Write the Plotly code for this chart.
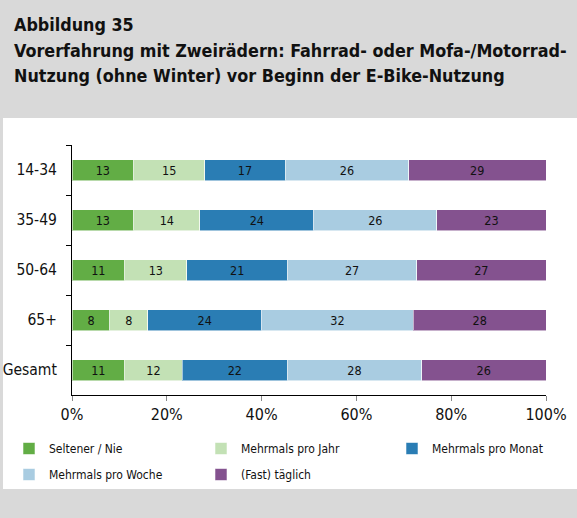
import plotly.graph_objects as go

# Age groups (top to bottom) and usage frequencies in percent
groups = ["14-34", "35-49", "50-64", "65+", "Gesamt"]
series_names = ["Seltener / Nie", "Mehrmals pro Jahr", "Mehrmals pro Monat",
                "Mehrmals pro Woche", "(Fast) täglich"]
seltener = [13, 13, 11, 8, 11]
pro_jahr = [15, 14, 13, 8, 12]
pro_monat = [17, 24, 21, 24, 22]
pro_woche = [26, 26, 27, 32, 28]
taeglich = [29, 23, 27, 28, 26]
x_ticks = [0, 20, 40, 60, 80, 100]
x_tick_labels = ["0%", "20%", "40%", "60%", "80%", "100%"]

series_values = [seltener, pro_jahr, pro_monat, pro_woche, taeglich]
colors = ["#62ad45", "#c3e1b5", "#2a7db4", "#a9cce1", "#84528f"]
# legend column for each series (three columns, two rows)
legend_ids = ["legend", "legend2", "legend3", "legend", "legend2"]

FONT = "DejaVu Sans Condensed, Liberation Sans Narrow, Arial Narrow, sans-serif"
W, H = 577, 518
L, R, T, B = 72, 31, 145, 123
PW, PH = W - L - R, H - T - B


def px_x(px):
    return (px - L) / PW


def px_y(py):
    return (H - B - py) / PH


fig = go.Figure()
for i, (name, vals, col) in enumerate(zip(series_names, series_values, colors)):
    fig.add_trace(go.Bar(
        y=groups, x=vals, name=name, orientation="h",
        marker=dict(color=col, line=dict(color="rgba(255,255,255,0.55)", width=1)),
        width=0.42,
        text=vals, texttemplate="%{text}", textposition="inside",
        insidetextanchor="middle", textangle=0, constraintext="none",
        textfont=dict(family=FONT, size=12.5, color="#111111"),
        legend=legend_ids[i], legendgroup=name,
        hoverinfo="skip",
    ))

# white chart panel on grey page
fig.add_shape(type="rect", xref="paper", yref="paper",
              x0=px_x(3), x1=px_x(W + 2), y0=px_y(489), y1=px_y(118),
              fillcolor="white", line=dict(width=0), layer="below")

title_lines = ["Abbildung 35",
               "Vorerfahrung mit Zweirädern: Fahrrad- oder Mofa-/Motorrad-",
               "Nutzung (ohne Winter) vor Beginn der E-Bike-Nutzung"]
for line, cy in zip(title_lines, [24, 50, 75]):
    fig.add_annotation(text="<b>%s</b>" % line, xref="paper", yref="paper",
                       x=px_x(12), y=px_y(cy), xanchor="left", yanchor="middle",
                       showarrow=False, font=dict(family=FONT, size=17.8, color="#111111"))


def legend_box(left_px):
    return dict(orientation="v", xref="container", yref="container",
                x=left_px / W, y=1 - 434 / H, xanchor="left", yanchor="top",
                traceorder="grouped", tracegroupgap=7,
                font=dict(family=FONT, size=12, color="#111111"),
                bgcolor="rgba(0,0,0,0)", itemclick=False, itemdoubleclick=False)


fig.update_layout(
    width=W, height=H,
    margin=dict(l=L, r=R, t=T, b=B, autoexpand=False),
    paper_bgcolor="#d9d9d9", plot_bgcolor="white",
    barmode="stack", barnorm="percent",
    font=dict(family=FONT, color="#111111"),
    showlegend=True,
    legend=legend_box(9),
    legend2=legend_box(201),
    legend3=legend_box(392),
    xaxis=dict(range=[0, 100], tickvals=x_ticks, ticktext=x_tick_labels,
               showgrid=False, zeroline=False, showline=True, linecolor="#000000",
               linewidth=1, ticks="outside", ticklen=5, tickcolor="#888888",
               automargin=False,
               tickfont=dict(family=FONT, size=16, color="#111111")),
    yaxis=dict(categoryorder="array", categoryarray=groups, autorange="reversed",
               showgrid=False, zeroline=False, showline=True, linecolor="#000000",
               linewidth=1, ticks="outside", ticklen=5, tickcolor="#000000",
               tickson="boundaries", ticklabelstandoff=11, automargin=False,
               tickfont=dict(family=FONT, size=15.5, color="#111111")),
)

fig.write_html("out.html")
